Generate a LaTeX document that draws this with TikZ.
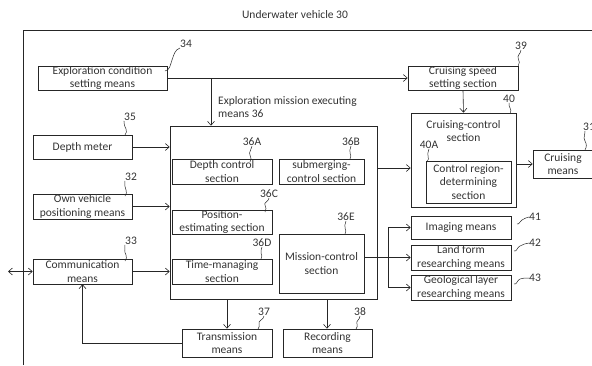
\documentclass[tikz,border=0pt]{standalone}
\usepackage{fontspec}
\setmainfont{Carlito}
\usetikzlibrary{arrows.meta}
\begin{document}
\begin{tikzpicture}[x=1pt,y=-1pt,
  every node/.style={font=\fontsize{11.5}{13.5}\selectfont, text=black!80},
  box/.style={draw=black!85, line width=0.6pt, align=center, inner sep=0pt},
  arr/.style={draw=black!85, line width=0.6pt, -{Straight Barb[length=4pt,width=7pt]}},
  ln/.style={draw=black!85, line width=0.6pt},
  sq/.style={draw=black!85, line width=0.5pt},
  lab/.style={inner sep=0pt}]
\useasboundingbox (0,0) rectangle (592,365);
% frame
\node[lab] (title) at (295,15) {Underwater vehicle 30};
\coordinate (ftl) at (23,30);
\coordinate (ftr) at (592,30);
\coordinate (fbl) at (23,365);
\draw[ln] (fbl) -- (ftl) -- (ftr);
% boxes
\node[box, minimum width=129pt, minimum height=24pt] (ecsm) at (102.5,78) {Exploration condition\\setting means};
\node[box, minimum width=99pt, minimum height=24pt] (dm) at (82.5,147) {Depth meter};
\node[box, minimum width=99pt, minimum height=25pt] (ovp) at (82.5,206.5) {Own vehicle\\positioning means};
\node[box, minimum width=99pt, minimum height=25pt] (comm) at (82.5,271.5) {Communication\\means};
\node[box, minimum width=207pt, minimum height=173pt] (m36) at (273.5,212.5) {};
\node[box, minimum width=100pt, minimum height=25pt] (dcs) at (222,171.5) {Depth control\\section};
\node[box, minimum width=85pt, minimum height=25pt] (scs) at (321.5,171.5) {submerging-\\control section};
\node[box, minimum width=100pt, minimum height=24pt] (pes) at (222,222) {Position-\\estimating section};
\node[box, minimum width=100pt, minimum height=25pt] (tms) at (222,271.5) {Time-managing\\section};
\node[box, minimum width=85pt, minimum height=59pt] (mcs) at (321.5,263.5) {Mission-control\\section};
\node[box, minimum width=90pt, minimum height=28pt] (trans) at (227,343) {Transmission\\means};
\node[box, minimum width=89pt, minimum height=28pt] (rec) at (327.5,343) {Recording\\means};
\node[box, minimum width=110pt, minimum height=24pt] (csp) at (463,78) {Cruising speed\\setting section};
\node[box, minimum width=105pt, minimum height=94pt] (ccs) at (463.5,160) {};
\node[lab, align=center] (ccst) at (463.5,131) {Cruising-control\\section};
\node[box, minimum width=85pt, minimum height=42pt] (crd) at (468.5,182) {Control region-\\determining\\section};
\node[box, minimum width=66pt, minimum height=28pt] (cm) at (566,164) {};
\node[lab, align=center] (cmt) at (563,164) {Cruising\\means};
\node[box, minimum width=100pt, minimum height=23pt] (im) at (461,227.5) {Imaging means};
\node[box, minimum width=100pt, minimum height=25pt] (lf) at (461,257.5) {Land form\\researching means};
\node[box, minimum width=100pt, minimum height=25pt] (geo) at (461,287.5) {Geological layer\\researching means};
\node[lab, align=left, anchor=west] (emt) at (218,107) {Exploration mission executing\\means 36};
% labels
\node[lab] (l34) at (186,44) {34};
\node[lab] (l39) at (521,46) {39};
\node[lab] (l40) at (509,99) {40};
\node[lab] (l31) at (589,127) {31};
\node[lab] (l35) at (130,117) {35};
\node[lab] (l32) at (131,177) {32};
\node[lab] (l33) at (131,241) {33};
\node[lab] (l36A) at (252,142) {36A};
\node[lab] (l36B) at (351,142) {36B};
\node[lab] (l36C) at (269,194) {36C};
\node[lab] (l36D) at (262,243) {36D};
\node[lab] (l36E) at (346,217) {36E};
\node[lab] (l37) at (264,312) {37};
\node[lab] (l38) at (360,312) {38};
\node[lab] (l40A) at (429,145) {40A};
\node[lab] (l41) at (535,217) {41};
\node[lab] (l42) at (535,243) {42};
\node[lab] (l43) at (535,278) {43};
% squiggles
\draw[sq] (165,71) to[out=10,in=-110] (172,60) to[out=70,in=-160] (l34.south west);
\draw[sq] (csp.north east) to[out=60,in=-60] ++(0,-7) to[out=120,in=-90] (l39.south);
\draw[sq] ([xshift=-6pt]ccs.north east) to[out=60,in=-60] ++(0,-4) to[out=120,in=-90] (l40.south);
\draw[sq] (585,150) to[out=60,in=-60] ++(0,-9) to[out=120,in=-90] (l31.south -| 585,0);
\draw[sq] (125,135) to[out=60,in=-60] ++(1,-6) to[out=120,in=-90] (l35.south west);
\draw[sq] (125,196) to[out=60,in=-60] ++(1,-6) to[out=120,in=-90] (l32.south west);
\draw[sq] (125,261) to[out=60,in=-60] ++(1,-6) to[out=120,in=-90] (l33.south west);
\draw[sq] (250,162) to[out=60,in=-60] ++(0,-7) to[out=120,in=-90] (l36A.south);
\draw[sq] (350,159) to[out=60,in=-60] ++(0,-6) to[out=120,in=-90] (l36B.south);
\draw[sq] (265,212) to[out=60,in=-60] ++(0,-7) to[out=120,in=-90] (l36C.south);
\draw[sq] (261,259) to[out=60,in=-60] ++(0,-6) to[out=120,in=-90] (l36D.south);
\draw[sq] (345,234) to[out=60,in=-60] ++(0,-6) to[out=120,in=-90] (l36E.south);
\draw[sq] (258,329) to[out=60,in=-60] ++(1,-5) to[out=120,in=-90] (l37.south);
\draw[sq] (356,329) to[out=60,in=-60] ++(1,-5) to[out=120,in=-90] (l38.south);
\draw[sq] (427,162) to[out=60,in=-60] ++(1,-6) to[out=120,in=-90] (l40A.south);
\draw[sq] (517,224) to[out=-20,in=200] ++(5,-4) to[out=20,in=180] (l41.west);
\draw[sq] (514,251) to[out=-20,in=200] ++(6,-5) to[out=20,in=180] (l42.west);
\draw[sq] (514,284) to[out=-20,in=200] ++(6,-5) to[out=20,in=180] (l43.west);
% connectors
\coordinate (j1) at (211,78);
\draw[arr] (ecsm.east) -- (csp.west);
\draw[arr] (j1) -- (j1 |- m36.north);
\draw[arr] (dm.east) -- (dm.east -| m36.west);
\draw[arr] (ovp.east) -- (ovp.east -| m36.west);
\draw[arr] (comm.east) -- (comm.east -| m36.west);
\coordinate (ext) at (8,271.5);
\draw[draw=black!85, line width=0.6pt, {Straight Barb[length=4pt,width=7pt]}-{Straight Barb[length=4pt,width=7pt]}] (ext) -- (comm.west);
\coordinate (b1) at (227,299);
\coordinate (b2) at (327,299);
\draw[arr] (b1) -- (b1 |- trans.north);
\draw[arr] (b2) -- (b2 |- rec.north);
\draw[arr] (trans.west) -| (comm.south);
\coordinate (hc) at (0,168);
\draw[arr] (m36.east |- hc) -- (ccs.west |- hc);
\draw[arr] (csp.south) -- (ccs.north);
\draw[arr] (ccs.east |- cm.west) -- (cm.west);
\coordinate (jx) at (388,0);
\draw[arr] (mcs.east |- lf.west) -- (lf.west);
\draw[ln] (jx |- im.west) -- (jx |- geo.west);
\draw[arr] (jx |- im.west) -- (im.west);
\draw[arr] (jx |- geo.west) -- (geo.west);
\end{tikzpicture}
\end{document}
